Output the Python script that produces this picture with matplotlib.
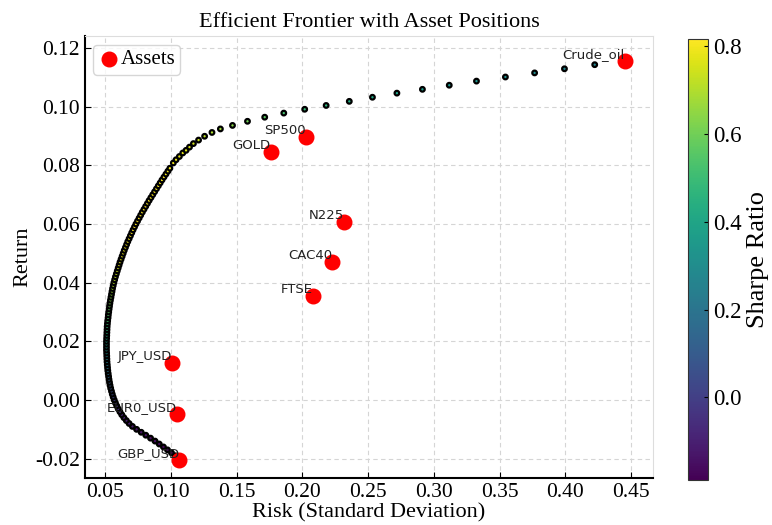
import matplotlib
matplotlib.use("Agg")
import matplotlib.pyplot as plt
import numpy as np

plt.rcParams['font.family'] = ['Liberation Serif', 'DejaVu Serif']

# efficient frontier (return, risk)
frontier_ret = [
    -0.020, -0.019, -0.018, -0.017, -0.016, -0.015, -0.014, -0.013, -0.012, -0.011,
    -0.010, -0.009, -0.008, -0.007, -0.006, -0.005, -0.004, -0.003, -0.002, -0.001,
    0.000, 0.001, 0.002, 0.003, 0.004, 0.005, 0.006, 0.007, 0.008, 0.009,
    0.010, 0.011, 0.012, 0.013, 0.014, 0.015, 0.016, 0.017, 0.018, 0.019,
    0.020, 0.021, 0.022, 0.023, 0.024, 0.025, 0.026, 0.027, 0.028, 0.029,
    0.030, 0.031, 0.032, 0.033, 0.034, 0.035, 0.036, 0.037, 0.038, 0.039,
    0.040, 0.041, 0.042, 0.043, 0.044, 0.045, 0.046, 0.047, 0.048, 0.049,
    0.050, 0.051, 0.052, 0.053, 0.054, 0.055, 0.056, 0.057, 0.058, 0.059,
    0.060, 0.061, 0.062, 0.063, 0.064, 0.065, 0.066, 0.067, 0.068, 0.069,
    0.070, 0.071, 0.072, 0.073, 0.074, 0.075, 0.076, 0.077, 0.078, 0.079,
    0.0808, 0.0819, 0.0830, 0.0842, 0.0851, 0.0862, 0.0874, 0.0886, 0.0899, 0.0912,
    0.0924, 0.0936, 0.0950, 0.0964, 0.0978, 0.0991, 0.1004, 0.1018, 0.1032, 0.1046,
    0.1059, 0.1073, 0.1087, 0.1101, 0.1115, 0.1129, 0.1143, 0.1157,
]
frontier_risk = [
    0.1063, 0.1035, 0.1005, 0.0975, 0.0944, 0.0912, 0.0880, 0.0846, 0.0810, 0.0775,
    0.0740, 0.0708, 0.0683, 0.0662, 0.0643, 0.0627, 0.0613, 0.0600, 0.0589, 0.0579,
    0.0570, 0.0562, 0.0555, 0.0549, 0.0543, 0.0538, 0.0534, 0.0530, 0.0527, 0.0524,
    0.0521, 0.0519, 0.0517, 0.0515, 0.0514, 0.0513, 0.0512, 0.0511, 0.0511, 0.0511,
    0.0511, 0.0512, 0.0513, 0.0514, 0.0515, 0.0516, 0.0518, 0.0520, 0.0523, 0.0525,
    0.0528, 0.0531, 0.0534, 0.0537, 0.0541, 0.0545, 0.0549, 0.0553, 0.0557, 0.0562,
    0.0567, 0.0573, 0.0579, 0.0586, 0.0593, 0.0600, 0.0607, 0.0614, 0.0622, 0.0630,
    0.0638, 0.0646, 0.0655, 0.0664, 0.0673, 0.0683, 0.0693, 0.0703, 0.0713, 0.0724,
    0.0735, 0.0747, 0.0759, 0.0771, 0.0783, 0.0796, 0.0809, 0.0822, 0.0835, 0.0849,
    0.0863, 0.0877, 0.0891, 0.0905, 0.0919, 0.0933, 0.0948, 0.0963, 0.0978, 0.0993,
    0.1019, 0.1040, 0.1065, 0.1091, 0.1116, 0.1142, 0.1172, 0.1211, 0.1257, 0.1313,
    0.1377, 0.1469, 0.1583, 0.1714, 0.1859, 0.2018, 0.2181, 0.2357, 0.2533, 0.2719,
    0.2913, 0.3117, 0.3324, 0.3544, 0.3766, 0.3993, 0.4223, 0.4453,
]

assets = ['Crude_oil', 'SP500', 'GOLD', 'N225', 'CAC40', 'FTSE', 'JPY_USD', 'EUR0_USD', 'GBP_USD']
asset_risk = [0.4453, 0.2028, 0.1760, 0.2319, 0.2227, 0.2080, 0.1007, 0.1045, 0.1063]
asset_ret = [0.1157, 0.0896, 0.0845, 0.0606, 0.0469, 0.0353, 0.0126, -0.0048, -0.0203]

sharpe = np.array(frontier_ret) / np.array(frontier_risk)

fig = plt.figure(figsize=(7.72, 5.25), dpi=100)
ax = fig.add_axes([0.110, 0.090, 0.736, 0.841])
cax = fig.add_axes([0.891, 0.086, 0.026, 0.840])

sc = ax.scatter(frontier_risk, frontier_ret, c=sharpe, cmap='viridis', s=11,
                edgecolors='black', linewidths=1.6, zorder=3)
ax.scatter(asset_risk, asset_ret, color='red', s=110, label='Assets', zorder=4)
for name, x, y in zip(assets, asset_risk, asset_ret):
    ax.text(x, y, name, ha='right', va='bottom', fontsize=9.5,
            family='DejaVu Sans', color='#222222', zorder=5)

ax.set_xlim(0.0347, 0.4667)
ax.set_ylim(-0.0265, 0.1240)
ax.set_xticks([0.05, 0.10, 0.15, 0.20, 0.25, 0.30, 0.35, 0.40, 0.45])
ax.set_yticks([-0.02, 0.00, 0.02, 0.04, 0.06, 0.08, 0.10, 0.12])
ax.set_yticklabels(['-0.02', '0.00', '0.02', '0.04', '0.06', '0.08', '0.10', '0.12'])
ax.tick_params(direction='in', labelsize=15.5, length=4)
ax.grid(True, linestyle=(0, (4, 3)), color='#d5d5d5', linewidth=0.8)
ax.set_axisbelow(True)
ax.spines['left'].set_linewidth(1.5)
ax.spines['bottom'].set_linewidth(1.5)
ax.spines['top'].set_color('#dddddd')
ax.spines['right'].set_color('#dddddd')

ax.set_xlabel('Risk (Standard Deviation)', fontsize=16, labelpad=1)
ax.set_ylabel('Return', fontsize=16, labelpad=2)
ax.set_title('Efficient Frontier with Asset Positions', fontsize=16, pad=7)
ax.legend(loc='upper left', fontsize=15, handletextpad=0.05, borderpad=0.25,
          handlelength=1.0, borderaxespad=0.4)

cb = fig.colorbar(sc, cax=cax)
cb.set_ticks([0.0, 0.2, 0.4, 0.6, 0.8])
cb.ax.tick_params(direction='in', labelsize=16.5, length=3)
cb.outline.set_edgecolor('#333333')
cb.set_label('Sharpe Ratio', fontsize=19, labelpad=4)

fig.savefig('out.png', dpi=100)
